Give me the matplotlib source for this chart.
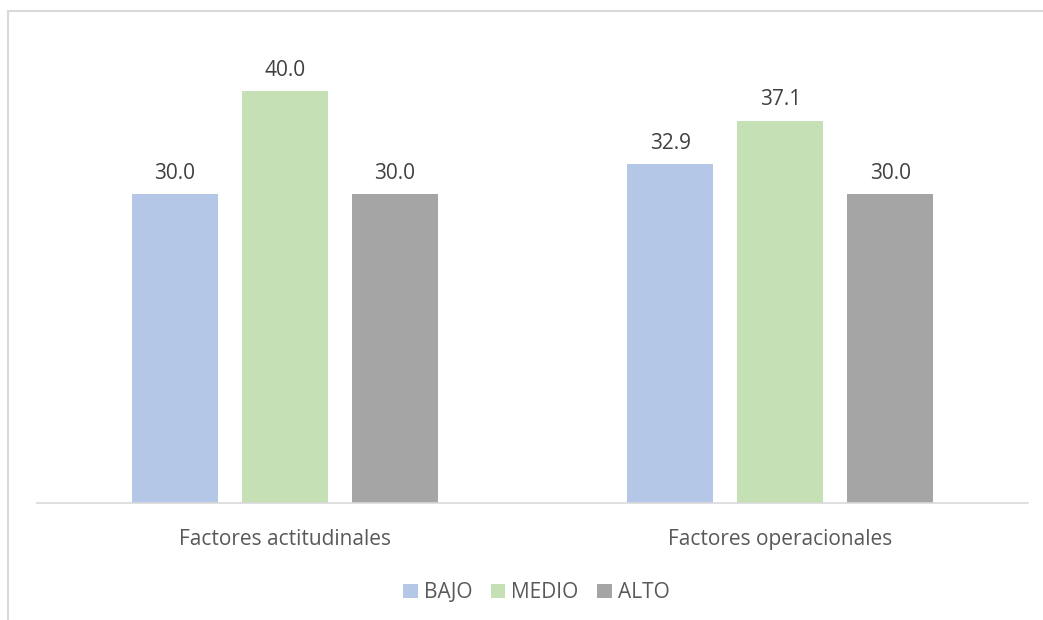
import matplotlib
matplotlib.use("Agg")
import matplotlib.pyplot as plt
from matplotlib.patches import Rectangle
import numpy as np

categories = ["Factores actitudinales", "Factores operacionales"]
series_names = ["BAJO", "MEDIO", "ALTO"]
bajo = [30.0, 32.9]
medio = [40.0, 37.1]
alto = [30.0, 30.0]
colors = ["#B4C7E7", "#C5E0B4", "#A5A5A5"]

plt.rcParams['font.family'] = ['Open Sans', 'DejaVu Sans']
TXT = "#595959"
LBL = "#404040"
FS = 15

W, H = 1043, 620
fig = plt.figure(figsize=(W / 100, H / 100), dpi=100)

# outer chart border (only top/left visible in the crop)
fig.patches.append(Rectangle((7.5 / W, -0.1), 1.2, 1 - 10.5 / H + 0.1,
                             transform=fig.transFigure, fill=False,
                             edgecolor="#D9D9D9", linewidth=1.5, clip_on=False))

ax = fig.add_axes([37 / W, (H - 503) / H, 991 / W, 463.5 / H])
ax.set_xlim(-0.5, 1.5)
ax.set_ylim(0, 45)

x = np.arange(len(categories))
width = 0.1736
step = 0.222
for k, (vals, c, name) in enumerate(zip([bajo, medio, alto], colors, series_names)):
    pos = x + (k - 1) * step
    ax.bar(pos, vals, width=width, color=c, label=name, zorder=2)
    for px_, v in zip(pos, vals):
        ax.annotate(f"{v:.1f}", xy=(px_, v), xytext=(0, 7.5), textcoords="offset points",
                    ha="center", va="bottom", fontsize=FS, color=LBL)

for i, cat in enumerate(categories):
    ax.annotate(cat, xy=(i, 0), xytext=(0, -26.5), textcoords="offset points",
                ha="center", va="center", fontsize=FS, color=TXT)

for s in ["top", "right", "left"]:
    ax.spines[s].set_visible(False)
ax.spines["bottom"].set_color("#D9D9D9")
ax.spines["bottom"].set_linewidth(1.2)
ax.set_xticks([])
ax.set_yticks([])

leg = fig.legend(loc="center", bbox_to_anchor=(536.5 / W, 1 - 593 / H), ncol=3,
                 frameon=False, fontsize=FS, handlelength=0.68, handleheight=0.68,
                 handletextpad=0.3, columnspacing=0.9)
for t in leg.get_texts():
    t.set_color(TXT)

fig.savefig("out.png", dpi=100)
